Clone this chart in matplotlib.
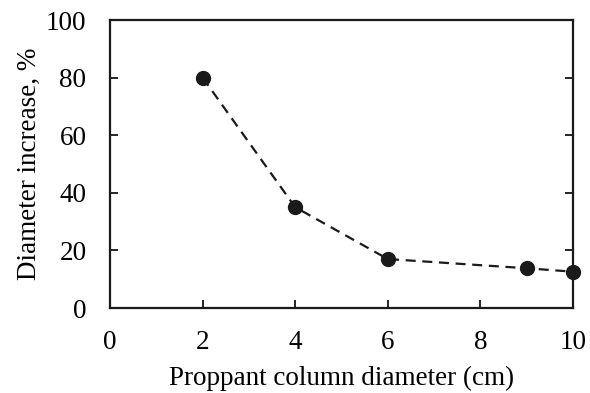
import matplotlib
matplotlib.use("Agg")
import matplotlib.pyplot as plt

# Data
column_diameter = [2, 4, 6, 9, 10]
diameter_increase = [80, 35, 17, 13.8, 12.6]

x_ticks = [0, 2, 4, 6, 8, 10]
y_ticks = [0, 20, 40, 60, 80, 100]

plt.rcParams["font.family"] = ["Liberation Serif", "DejaVu Serif"]

fig = plt.figure(figsize=(5.9, 3.93), dpi=100)
ax = fig.add_axes([110 / 590, 1 - 308 / 393, 463 / 590, 288 / 393])

ax.plot(column_diameter, diameter_increase, color="#1a1a1a", linestyle=(0, (4.5, 3)),
        linewidth=1.6, marker="o", markersize=10, clip_on=False, zorder=3)

ax.set_xlim(0, 10)
ax.set_ylim(0, 100)
ax.set_xticks(x_ticks)
ax.set_yticks(y_ticks)
ax.tick_params(axis="both", direction="in", length=6, width=1.2, labelsize=19.5,
               right=True, top=False)
ax.tick_params(axis="x", pad=16)
ax.tick_params(axis="y", pad=17)
for s in ax.spines.values():
    s.set_linewidth(1.6)
    s.set_color("#1a1a1a")

ax.set_xlabel("Proppant column diameter (cm)", fontsize=19.5, labelpad=8)
ax.set_ylabel("Diameter increase, %", fontsize=19.5, labelpad=3)

fig.savefig("out.png", dpi=100)
